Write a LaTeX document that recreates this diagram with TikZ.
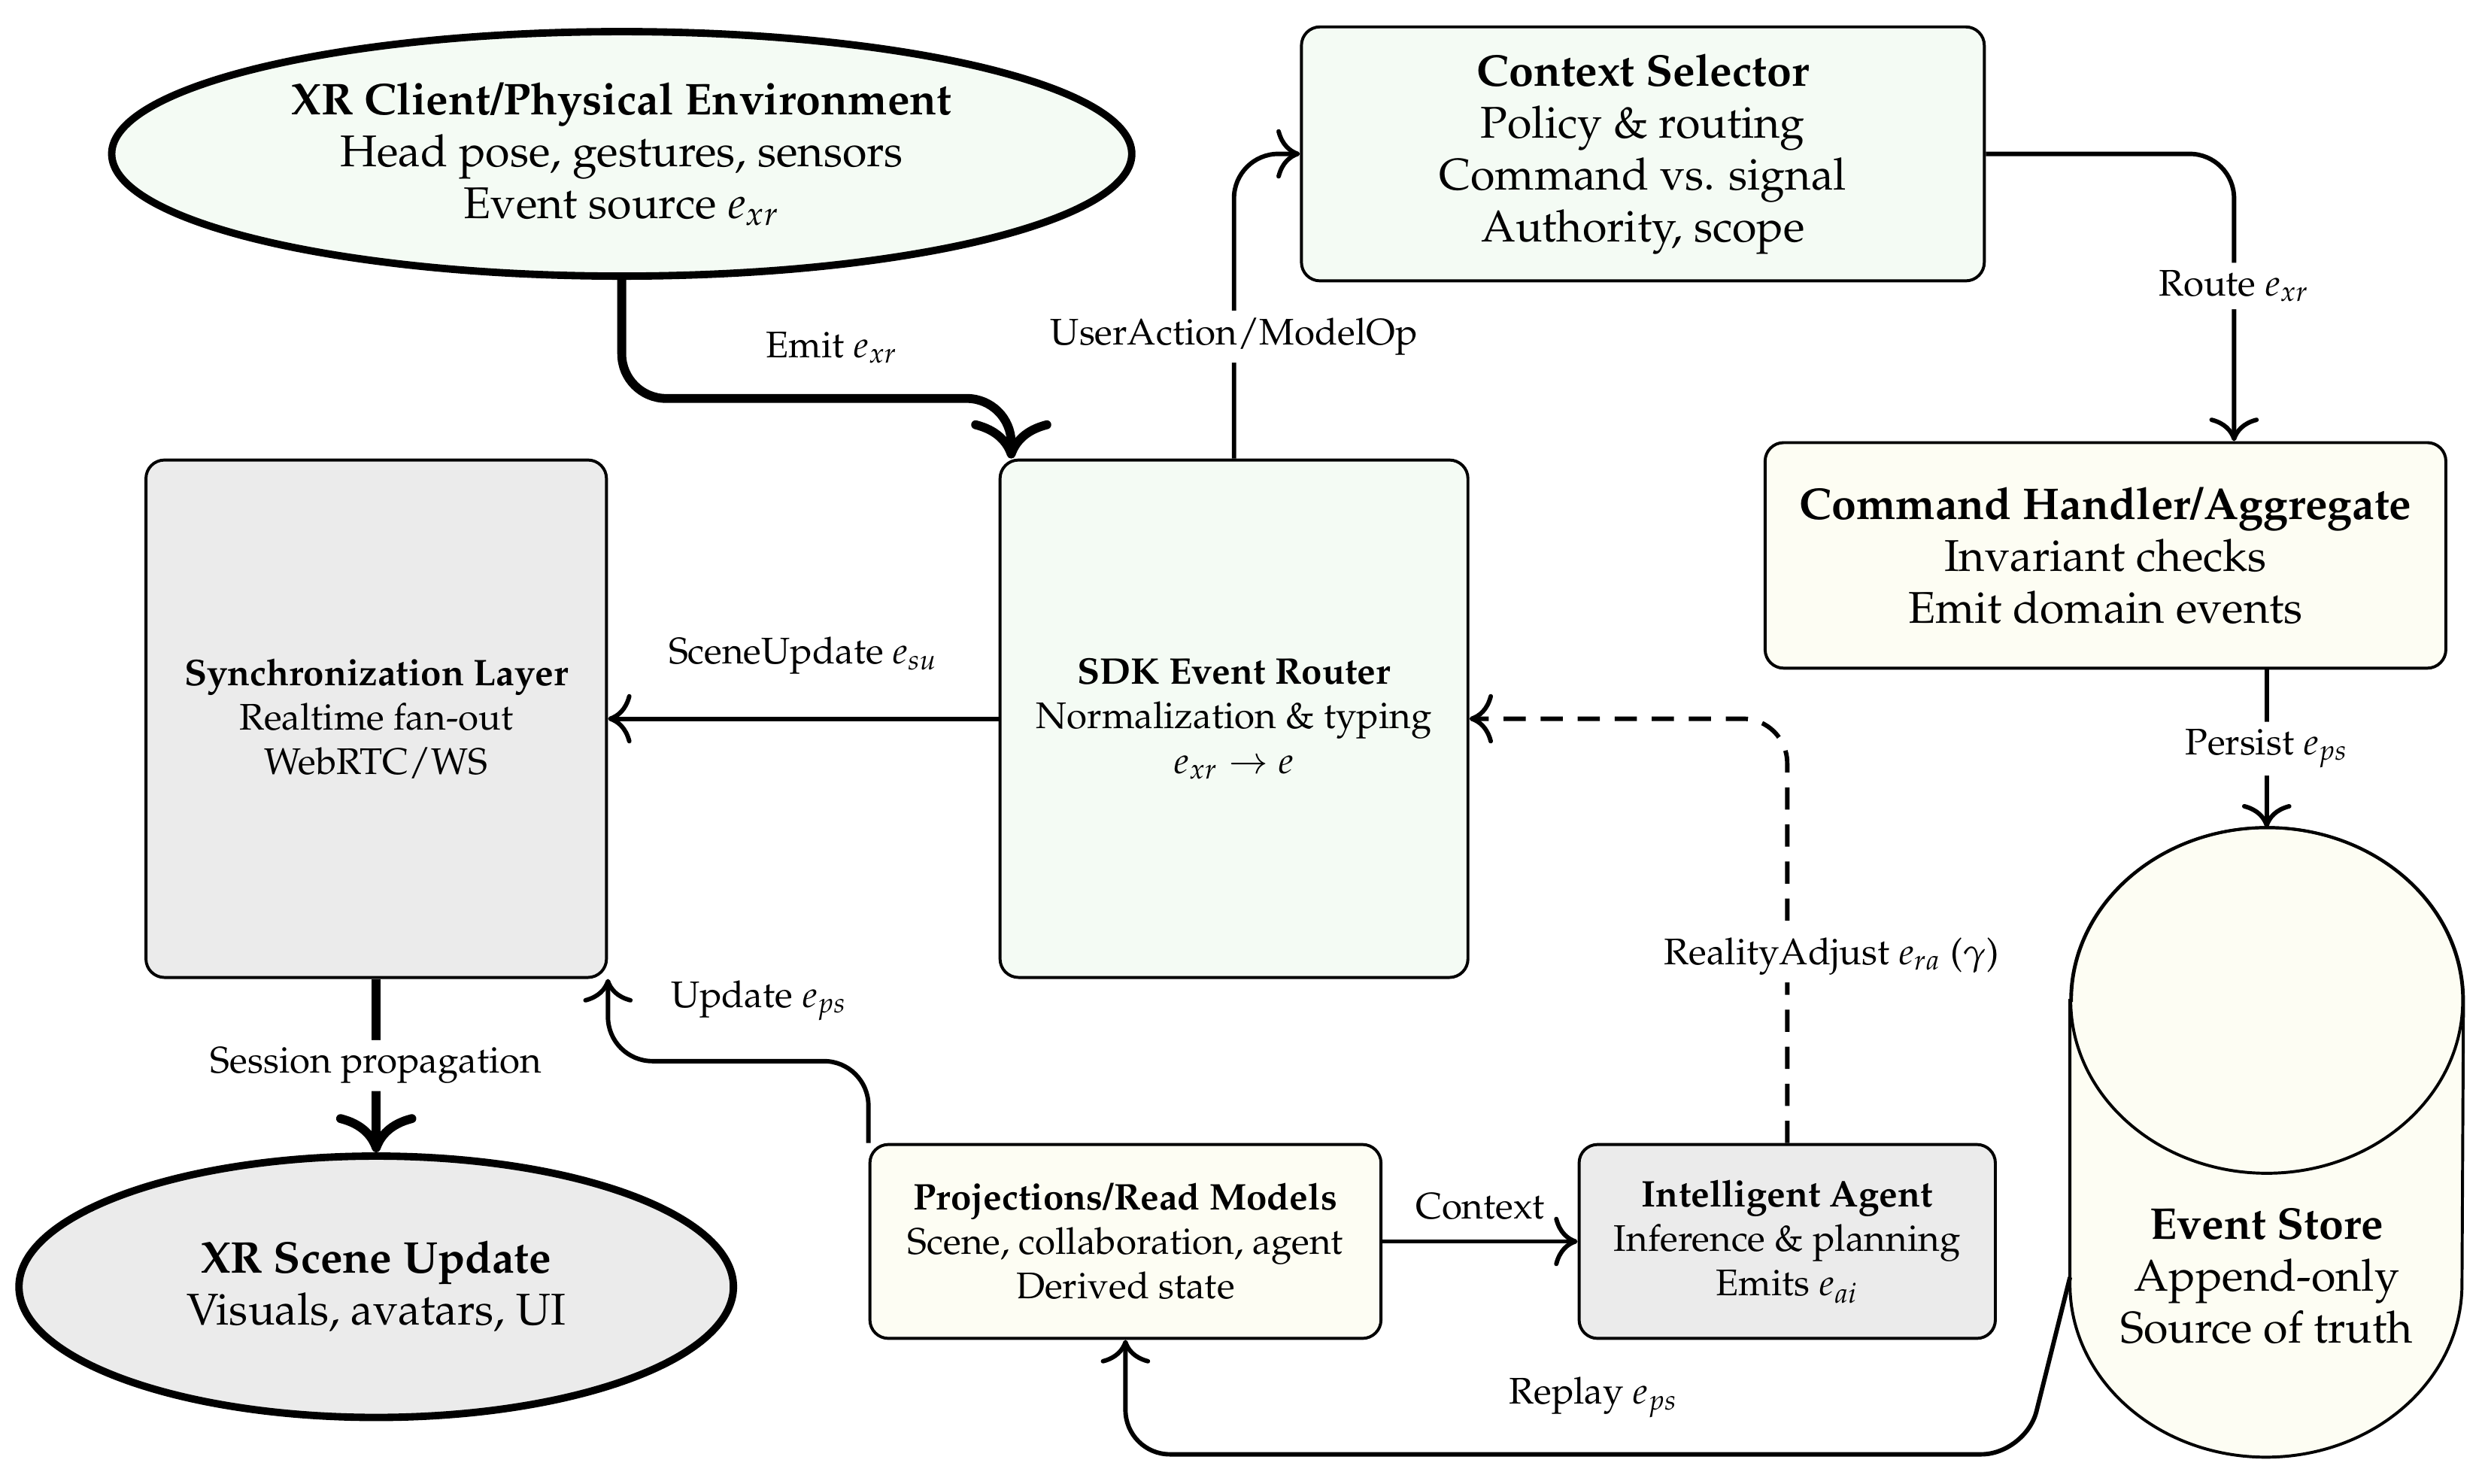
\documentclass[tikz,border=0pt]{standalone}
\usepackage[T1]{fontenc}
\usepackage{mathpazo}
\usetikzlibrary{shapes.geometric,calc,arrows.meta,backgrounds}

\definecolor{agreen}{HTML}{F4FBF4}
\definecolor{ayellow}{HTML}{FDFDF3}
\definecolor{agrey}{HTML}{EBEBEB}

\begin{document}
\begin{tikzpicture}[
    >={To[scale=1.5]},
    box/.style={draw, thick, rounded corners=5pt, align=center, inner sep=2pt},
    blob/.style={ellipse, draw, line width=2pt, align=center, inner sep=0pt},
    arr/.style={->, very thick, rounded corners=12pt},
    bigarr/.style={->, line width=2.4pt, rounded corners=12pt},
    lbl/.style={fill=white, inner sep=2pt}
]
\useasboundingbox (0,0) rectangle (23.61,-14.08);

% nodes
\node[blob, fill=agreen, font=\large, minimum width=9.68cm, minimum height=2.32cm] (xr) at (5.90,-1.46)
    {\textbf{XR Client/Physical Environment}\\Head pose, gestures, sensors\\Event source $e_{xr}$};
\node[box, fill=agreen, font=\large, minimum width=6.48cm, minimum height=2.41cm] (ctx) at (15.59,-1.46)
    {\textbf{Context Selector}\\Policy \& routing\\Command vs. signal\\Authority, scope};
\node[box, fill=ayellow, font=\large, minimum width=6.46cm, minimum height=2.14cm] (cmd) at (19.98,-5.27)
    {\textbf{Command Handler/Aggregate}\\Invariant checks\\Emit domain events};
\node[box, fill=agreen, minimum width=4.44cm, minimum height=4.91cm] (router) at (11.71,-6.82)
    {\textbf{SDK Event Router}\\Normalization \& typing\\$e_{xr} \rightarrow e$};
\node[box, fill=agrey, minimum width=4.37cm, minimum height=4.91cm] (sync) at (3.57,-6.82)
    {\textbf{Synchronization Layer}\\Realtime fan-out\\WebRTC/WS};
\node[blob, fill=agrey, font=\large, minimum width=6.78cm, minimum height=2.48cm] (scene) at (3.57,-12.21)
    {\textbf{XR Scene Update}\\Visuals, avatars, UI};
\node[box, fill=ayellow, minimum width=4.85cm, minimum height=1.84cm] (proj) at (10.68,-11.78)
    {\textbf{Projections/Read Models}\\Scene, collaboration, agent\\Derived state};
\node[box, fill=agrey, minimum width=3.95cm, minimum height=1.84cm] (agent) at (16.96,-11.78)
    {\textbf{Intelligent Agent}\\Inference \& planning\\Emits $e_{ai}$};
\node[align=center, font=\large, text height=3.81cm, text depth=0pt, inner sep=0pt,
    minimum height=5.96cm, minimum width=3.72cm] (store) at (21.51,-10.84)
    {\textbf{Event Store}\\Append-only\\Source of truth};

% event store drum
\begin{scope}[on background layer]
\draw[thick, fill=ayellow] ($(store.north west)+(0,-1.64)$) -- ($(store.south west)+(0,1.64)$)
    arc[start angle=180, end angle=360, x radius=1.86, y radius=1.64]
    -- ($(store.north east)+(0,-1.64)$)
    arc[start angle=0, end angle=180, x radius=1.86, y radius=1.64] -- cycle;
\draw[thick] ($(store.north)+(0,-1.64)$) ellipse[x radius=1.86, y radius=1.64];
\end{scope}

% connectors
\draw[bigarr] (xr.south) |- node[pos=0.77, above=5pt]{Emit $e_{xr}$}
    ($(router.north west)+(0.12,0.57)$) -- ($(router.north west)+(0.12,0)$);
\draw[arr] (router.north) |- node[pos=0.2, lbl]{UserAction/ModelOp} (ctx.west);
\draw[arr] (ctx.east) -| node[pos=0.73, lbl]{Route $e_{xr}$} ($(cmd.north)+(1.22,0)$);
\draw[arr] (store.north |- cmd.south) -- node[lbl]{Persist $e_{ps}$} (store.north);
\draw[arr] (router.west) -- node[above=8pt]{SceneUpdate $e_{su}$} (router.west -| sync.east);
\draw[bigarr] (sync.south) -- node[lbl]{Session propagation} (scene.north);
\draw[arr] (proj.north west) |- node[pos=0.71, above=7pt]{Update $e_{ps}$}
    ($(sync.south east)+(0,-0.78)$) -- (sync.south east);
\draw[arr] (proj.east) -- node[above=2pt]{Context} (agent.west);
\draw[arr, dash pattern=on 6pt off 4pt] (agent.north) |- node[pos=0.22, lbl, xshift=0.42cm]{RealityAdjust $e_{ra}$ ($\gamma$)} (router.east);
\draw[arr] ($(store.west)+(0,-1.28)$) -- ($(store.west)+(-0.42,-2.96)$)
    -| node[pos=0.24, above=6pt]{Replay $e_{ps}$} (proj.south);
\end{tikzpicture}
\end{document}
